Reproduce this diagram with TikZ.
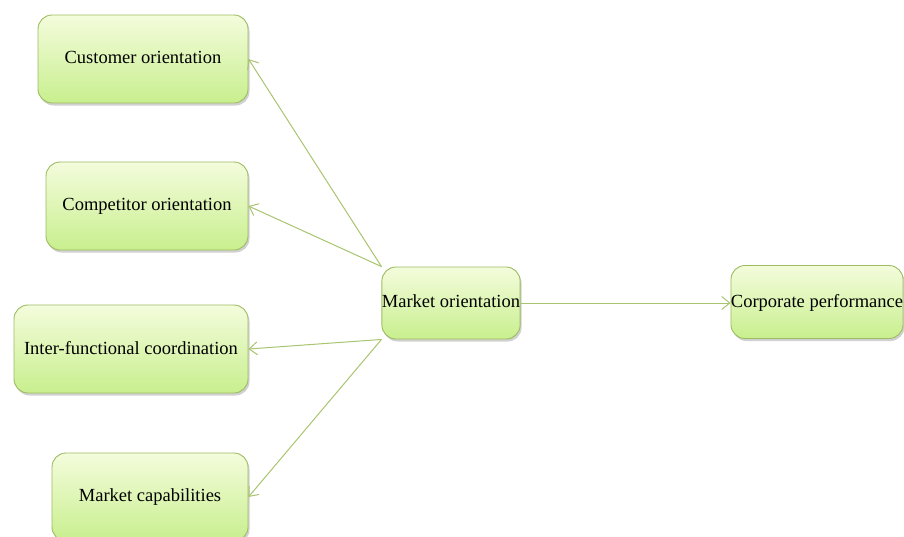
\documentclass[tikz,border=0pt]{standalone}
\usepackage{fontspec}
\setmainfont{Liberation Serif}
\usetikzlibrary{arrows.meta,shadows}
\definecolor{boxtop}{HTML}{F4FCDC}
\definecolor{boxbot}{HTML}{C8EF8E}
\definecolor{boxline}{HTML}{9DBB61}
\definecolor{linkcol}{HTML}{A8C46E}
\tikzset{
  every picture/.style={font=\fontsize{18.5}{22}\selectfont},
  factor/.style={draw=boxline, line width=0.9pt, rounded corners=14pt,
    top color=boxtop, bottom color=boxbot, inner sep=0pt, align=center,
    text depth=3pt,
    drop shadow={shadow xshift=1.5pt, shadow yshift=-2.5pt, opacity=0.3, fill=black!60}},
  link/.style={linkcol, line width=1pt, -{Straight Barb[length=8pt,width=13pt]}},
}
\begin{document}
\begin{tikzpicture}[x=1pt,y=-1pt]
  \useasboundingbox (0,0) rectangle (904,536);
  % the four dimensions
  \node[factor, minimum width=210pt, minimum height=88pt] (cust) at (143,59) {Customer orientation};
  \node[factor, minimum width=202pt, minimum height=88pt] (comp) at (147,206) {Competitor orientation};
  \node[factor, minimum width=234pt, minimum height=88pt] (inter) at (131,349) {Inter-functional coordination};
  \node[factor, minimum width=196pt, minimum height=88pt] (capab) at (150,497) {Market capabilities};
  % centre and outcome
  \node[factor, minimum width=136pt, minimum height=72pt] (mo) at (451,303) {Market orientation};
  \node[factor, minimum width=168pt, minimum height=73pt] (perf) at (817,302) {Corporate performance};
  \draw[link] (mo.north west) -- (cust.east);
  \draw[link] (mo.north west) -- (comp.east);
  \draw[link] (mo.south west) -- (inter.east);
  \draw[link] (mo.south west) -- (capab.east);
  \draw[link] (mo.east) -- (mo.east -| perf.west);
\end{tikzpicture}
\end{document}
